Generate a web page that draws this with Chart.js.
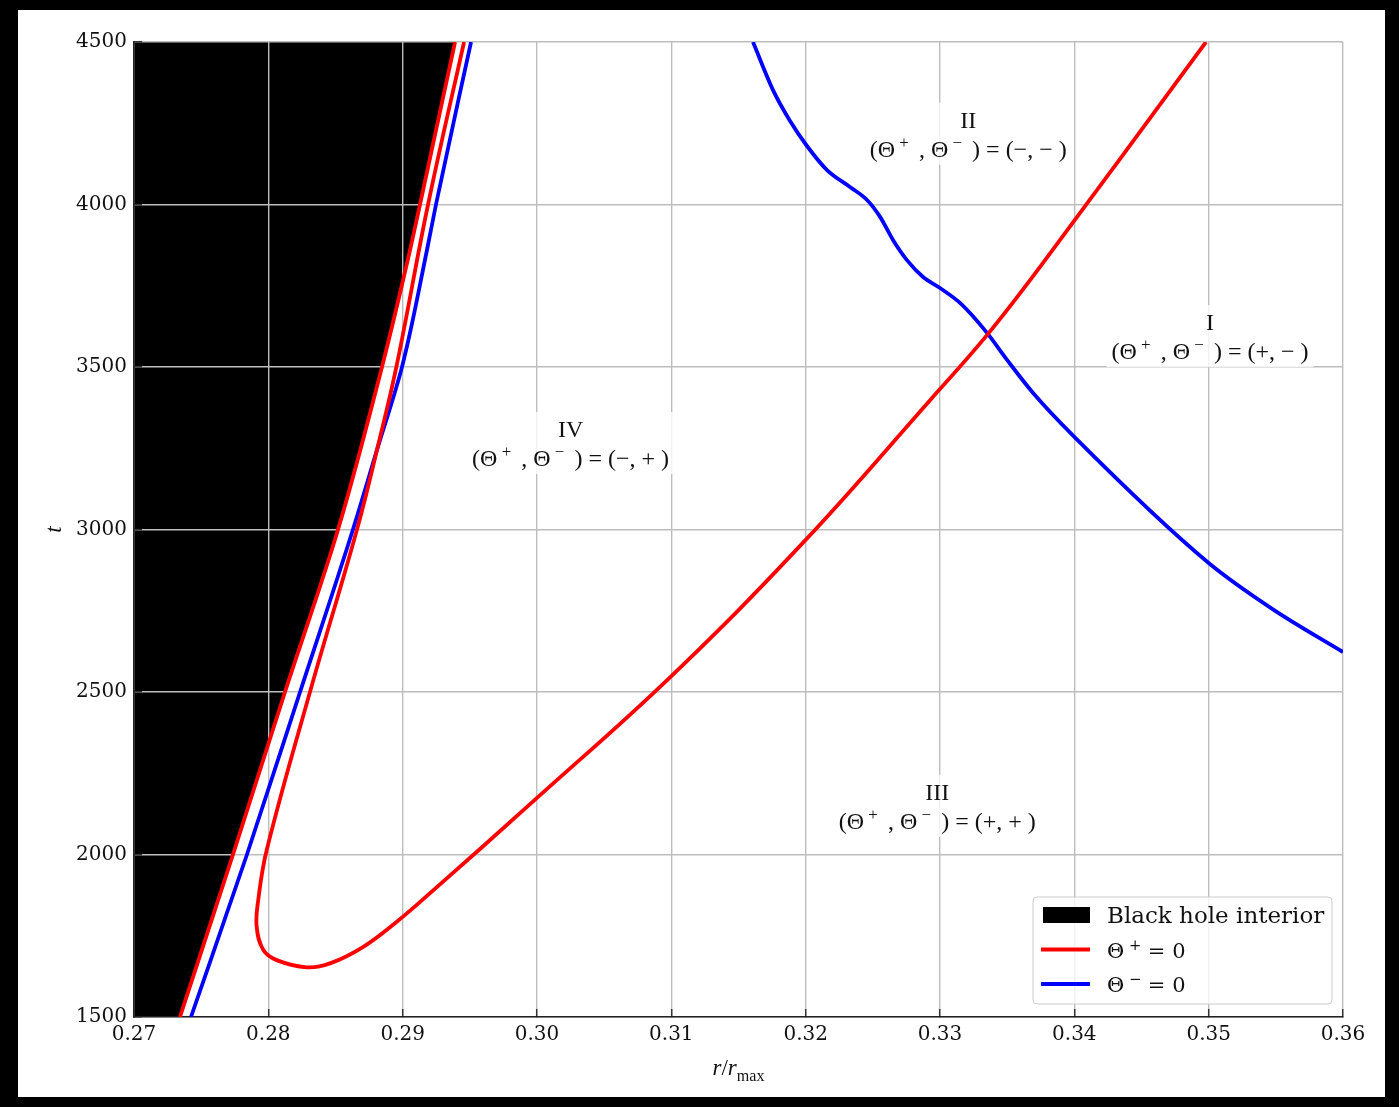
<!DOCTYPE html>
<html><head><meta charset="utf-8">
<script src="https://cdn.jsdelivr.net/npm/chart.js@4/dist/chart.umd.min.js"></script>
<style>
html,body{margin:0;padding:0;background:#000;width:1399px;height:1107px;overflow:hidden}
#wrap{position:absolute;left:18px;top:10px;width:1367px;height:1087px;background:#fff}
</style></head><body><div id="wrap"><canvas id="c"></canvas></div>
<script>
// ---------- data ----------
const xTicks = [0.27, 0.28, 0.29, 0.30, 0.31, 0.32, 0.33, 0.34, 0.35, 0.36];
const yTicks = [1500, 2000, 2500, 3000, 3500, 4000, 4500];

// Black hole interior boundary / inner Theta+ = 0 branch
const horizonT = [1500, 2000, 2500, 3000, 3500, 3860, 4000, 4500];
const horizonR = [0.27342, 0.27737, 0.28124, 0.28519, 0.28846, 0.29055, 0.29129, 0.29390];

// Theta+ = 0 outer curve (top -> loop -> up to the right)
const thetaPlusT = [4500, 4000, 3500, 3245, 3000, 2500, 2014, 1860, 1778, 1706, 1675, 1653, 1665, 1716, 1793, 1881, 2174, 2549, 2968, 3398, 3598, 3808, 4500];
const thetaPlusR = [0.29457, 0.29189, 0.28953, 0.28809, 0.28660, 0.28310, 0.27988, 0.27925, 0.27913, 0.27963, 0.28062, 0.28286, 0.28459, 0.28707, 0.28956, 0.29204, 0.30000, 0.31000, 0.32000, 0.32926, 0.33350, 0.33745, 0.34980];

// Theta- = 0 inner branch
const thetaMinusInT = [1500, 2000, 2500, 3000, 3245, 3500, 3860, 4000, 4500];
const thetaMinusInR = [0.27424, 0.27841, 0.28236, 0.28630, 0.28809, 0.28995, 0.29181, 0.29248, 0.29509];

// Theta- = 0 outer branch
const thetaMinusOutT = [4500, 4352, 4257, 4180, 4106, 4054, 4014, 3962, 3891, 3829, 3777, 3743, 3697, 3605, 3522, 3420, 3285, 2897, 2752, 2623];
const thetaMinusOutR = [0.31608, 0.31757, 0.31884, 0.32010, 0.32159, 0.32330, 0.32457, 0.32554, 0.32650, 0.32754, 0.32874, 0.33000, 0.33149, 0.33350, 0.33499, 0.33693, 0.34000, 0.35000, 0.35487, 0.36000];

const regionNames = ['I', 'II', 'III', 'IV'];
const regionSignPlus = ['+', '\u2212', '+', '\u2212'];
const regionSignMinus = ['\u2212', '\u2212', '+', '+'];

const legendLabels = ['Black hole interior', '\u0398+ = 0', '\u0398\u2212 = 0'];

// ---------- annotation placement (data coordinates) ----------
const regionAnchor = {
  'I':   {r: 0.3501, t: 3595},
  'II':  {r: 0.3321, t: 4218},
  'III': {r: 0.3298, t: 2150},
  'IV':  {r: 0.3025, t: 3266}
};

const pts = (R, T) => R.map((r, i) => ({x: r, y: T[i]}));

const SERIF = '"DejaVu Serif", serif';
const MATH = '"Liberation Serif", "DejaVu Serif", serif';

function richWidth(ctx, parts, size, family) {
  let w = 0;
  parts.forEach(p => {
    const s = (p.sup || p.sub) ? size * 0.7 : size;
    ctx.font = (p.italic ? 'italic ' : '') + s + 'px ' + family;
    w += ctx.measureText(p.t).width;
  });
  return w;
}
function drawRich(ctx, parts, cx, baseline, size, family) {
  const w = richWidth(ctx, parts, size, family);
  let x = cx - w / 2;
  ctx.textAlign = 'left';
  ctx.textBaseline = 'alphabetic';
  parts.forEach(p => {
    const s = (p.sup || p.sub) ? size * 0.7 : size;
    ctx.font = (p.italic ? 'italic ' : '') + s + 'px ' + family;
    const dy = p.sup ? -size * 0.36 : (p.sub ? size * 0.25 : 0);
    ctx.fillText(p.t, x, baseline + dy);
    x += ctx.measureText(p.t).width;
  });
  return w;
}

const annotationPlugin = {
  id: 'regions',
  afterDatasetsDraw(chart) {
    const ctx = chart.ctx, xs = chart.scales.x, ys = chart.scales.y;
    const size = 24;
    ctx.save();
    regionNames.forEach((name, i) => {
      const a = regionAnchor[name];
      const cx = xs.getPixelForValue(a.r), cy = ys.getPixelForValue(a.t);
      const line2 = [
        {t: '(\u0398'}, {t: ' + ', sup: true}, {t: ' , \u0398'}, {t: ' \u2212 ', sup: true},
        {t: ' ) = (' + regionSignPlus[i] + ', ' + regionSignMinus[i] + ' )'}
      ];
      const w2 = richWidth(ctx, line2, size, MATH);
      const bw = w2 + 10, bh = 62;
      ctx.fillStyle = 'rgba(255,255,255,0.8)';
      ctx.fillRect(cx - bw / 2, cy - bh / 2, bw, bh);
      ctx.fillStyle = '#111';
      ctx.font = size + 'px ' + MATH;
      ctx.textAlign = 'center';
      ctx.textBaseline = 'alphabetic';
      ctx.fillText(name, cx, cy - 6);
      drawRich(ctx, line2, cx, cy + 23, size, MATH);
    });
    ctx.restore();
  },
  afterDraw(chart) {
    const ctx = chart.ctx, ca = chart.chartArea;
    ctx.save();
    // axis titles
    ctx.fillStyle = '#111';
    drawRich(ctx, [{t: 'r', italic: true}, {t: '/'}, {t: 'r', italic: true}, {t: 'max', sub: true}],
      (ca.left + ca.right) / 2, ca.bottom + 58, 23, MATH);
    ctx.translate(ca.left - 79, (ca.top + ca.bottom) / 2);
    ctx.rotate(-Math.PI / 2);
    ctx.font = 'italic 23px ' + MATH;
    ctx.textAlign = 'center';
    ctx.textBaseline = 'middle';
    ctx.fillText('t', 0, 0);
    ctx.restore();

    // legend
    ctx.save();
    const bw = 299, bh = 107;
    const bx = ca.right - 11 - bw, by = ca.bottom - 13 - bh;
    ctx.beginPath();
    if (ctx.roundRect) ctx.roundRect(bx, by, bw, bh, 4); else ctx.rect(bx, by, bw, bh);
    ctx.fillStyle = 'rgba(255,255,255,0.8)';
    ctx.fill();
    ctx.strokeStyle = '#cccccc';
    ctx.lineWidth = 1;
    ctx.stroke();
    const entries = [
      {ds: 0, kind: 'box', parts: [{t: legendLabels[0]}]},
      {ds: 1, kind: 'line', parts: [{t: '\u0398'}, {t: ' +', sup: true}, {t: ' = 0'}]},
      {ds: 3, kind: 'line', parts: [{t: '\u0398'}, {t: ' \u2212', sup: true}, {t: ' = 0'}]}
    ];
    entries.forEach((e, i) => {
      const ds = chart.data.datasets[e.ds];
      const yc = by + 18 + i * 34.5;
      if (e.kind === 'box') {
        ctx.fillStyle = ds.backgroundColor;
        ctx.fillRect(bx + 10, yc - 8, 47, 16);
      } else {
        ctx.strokeStyle = ds.borderColor;
        ctx.lineWidth = 4;
        ctx.beginPath();
        ctx.moveTo(bx + 8, yc);
        ctx.lineTo(bx + 57, yc);
        ctx.stroke();
      }
      ctx.fillStyle = '#111';
      const size = i === 0 ? 23 : 21;
      const w = richWidth(ctx, e.parts, size, SERIF);
      drawRich(ctx, e.parts, bx + 74 + w / 2, yc + 8, size, SERIF);
    });
    ctx.restore();
  }
};

const lineDs = (label, R, T, color, extra) => Object.assign({
  label, data: pts(R, T), borderColor: color, backgroundColor: color,
  borderWidth: 3.8, pointRadius: 0, fill: false, tension: 0.35
}, extra || {});

const monoY = {indexAxis: 'y', cubicInterpolationMode: 'monotone'};
const monoX = {cubicInterpolationMode: 'monotone'};

new Chart(document.getElementById('c'), {
  type: 'line',
  data: {
    datasets: [
      {
        label: legendLabels[0], data: pts(horizonR, horizonT), indexAxis: 'y', cubicInterpolationMode: 'monotone',
        borderWidth: 0, borderColor: 'rgba(0,0,0,0)', backgroundColor: '#000000',
        fill: {value: 0.27}, pointRadius: 0
      },
      lineDs(legendLabels[1], horizonR, horizonT, '#ff0000', monoY),
      lineDs(legendLabels[1], thetaPlusR, thetaPlusT, '#ff0000', {tension: 0.4}),
      lineDs(legendLabels[2], thetaMinusInR, thetaMinusInT, '#0000ff', monoY),
      lineDs(legendLabels[2], thetaMinusOutR, thetaMinusOutT, '#0000ff', monoX)
    ]
  },
  options: {
    responsive: true, maintainAspectRatio: false, animation: false,
    layout: {padding: {top: 32, right: 42, left: 0, bottom: 0}},
    plugins: {legend: {display: false}, tooltip: {enabled: false}, filler: {drawTime: 'beforeDraw'}},
    scales: {
      x: {
        type: 'linear', min: 0.27, max: 0.36,
        afterBuildTicks: s => { s.ticks = xTicks.map(v => ({value: v})); },
        afterFit: s => { s.height = 80; },
        grid: {color: '#bdbdbd', lineWidth: 1.4, drawTicks: true, tickLength: -8, tickColor: '#333', tickWidth: 1.5},
        border: {display: true, color: '#222', width: 1.5},
        ticks: {padding: 14, color: '#111', font: {family: SERIF, size: 20}, maxRotation: 0,
                callback: v => Number(v).toFixed(2)}
      },
      y: {
        type: 'linear', min: 1500, max: 4500,
        afterBuildTicks: s => { s.ticks = yTicks.map(v => ({value: v})); },
        afterFit: s => { s.width = 116; },
        grid: {color: '#bdbdbd', lineWidth: 1.4, drawTicks: true, tickLength: -8, tickColor: '#333', tickWidth: 1.5},
        border: {display: true, color: '#222', width: 1.5},
        ticks: {padding: 15, color: '#111', font: {family: SERIF, size: 20},
                callback: v => String(v)}
      }
    }
  },
  plugins: [annotationPlugin]
});
</script></body></html>
